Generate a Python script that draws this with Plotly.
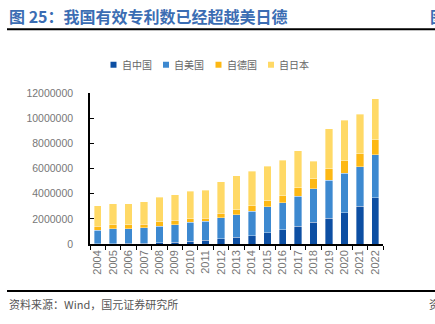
import plotly.graph_objects as go

years = [str(y) for y in range(2004, 2023)]

# Valid patents held, by applicant origin (units: patents)
china = [30000, 40000, 50000, 70000, 100000, 140000, 220000, 300000, 410000, 520000,
         670000, 890000, 1150000, 1410000, 1730000, 2050000, 2480000, 3000000, 3690000]
usa = [1070000, 1190000, 1170000, 1210000, 1310000, 1410000, 1490000, 1490000, 1670000, 1820000,
       1930000, 2060000, 2140000, 2400000, 2650000, 3020000, 3140000, 3150000, 3390000]
germany = [310000, 290000, 300000, 290000, 350000, 320000, 310000, 260000, 360000, 400000,
           460000, 500000, 530000, 680000, 790000, 920000, 1010000, 1030000, 1210000]
japan = [1650000, 1690000, 1690000, 1780000, 1960000, 2060000, 2170000, 2220000, 2500000, 2680000,
         2720000, 2720000, 2830000, 2920000, 1400000, 3180000, 3200000, 3120000, 3260000]

series_names = ["自中国", "自美国", "自德国", "自日本"]
series_values = [china, usa, germany, japan]
series_colors = ["#0D4FA3", "#3D89D0", "#FDB814", "#FFD966"]

y_ticks = [0, 2000000, 4000000, 6000000, 8000000, 10000000, 12000000]

fig = go.Figure()
for name, vals, color in zip(series_names, series_values, series_colors):
    fig.add_trace(go.Bar(
        x=years, y=vals, name=name, showlegend=False,
        marker=dict(color=color, line=dict(color="rgba(255,255,255,0.6)", width=0.6)),
    ))

cjk = "Noto Sans CJK SC"
num_font = "Liberation Sans, Arial"

# plot area edges in pixels: left, right, top, bottom
L, R, T, B = 90, 383, 93.3, 244.5
W, H = R - L, B - T


def px(xp):
    return (xp - L) / W


def py(yp):
    return (B - yp) / H


fig.update_layout(
    width=435, height=324,
    margin=dict(l=L, r=435 - R, t=T, b=324 - B, pad=0),
    paper_bgcolor="white", plot_bgcolor="white",
    barmode="stack", bargap=0.52,
    showlegend=False,
    xaxis=dict(
        type="category", tickangle=-90, showline=True, linecolor="black", linewidth=1.5,
        ticks="outside", ticklen=4, tickcolor="black", tickson="boundaries",
        tickfont=dict(family=num_font, size=11, color="#777777"),
        showgrid=False, zeroline=False,
    ),
    yaxis=dict(
        range=[0, 12000000], tickvals=y_ticks, ticktext=[str(v) for v in y_ticks],
        showline=True, linecolor="black", linewidth=1.5,
        ticks="inside", ticklen=4, tickcolor="black",
        tickfont=dict(family=num_font, size=10.5, color="#777777"),
        showgrid=False, zeroline=False, ticklabelstandoff=13,
    ),
    font=dict(family=cjk),
)

# key row above the bars: small colour square followed by the series name
key_x = [113.5, 166, 218.5, 271]
key_y = 65
for name, color, kx in zip(series_names, series_colors, key_x):
    fig.add_shape(type="rect", xref="paper", yref="paper",
                  x0=px(kx - 3), x1=px(kx + 3), y0=py(key_y + 3), y1=py(key_y - 3),
                  fillcolor=color, line=dict(width=0))
    fig.add_annotation(
        xref="paper", yref="paper", x=px(kx + 6), y=py(key_y), xanchor="left", yanchor="middle",
        text=name, showarrow=False, font=dict(family=cjk, size=10, color="#666666"),
    )

fig.add_annotation(
    xref="paper", yref="paper", x=px(7), y=py(16), xanchor="left", yanchor="middle",
    text="<b>图 25：我国有效专利数已经超越美日德</b>", showarrow=False,
    font=dict(family=cjk, size=16, color="#3B6DB3"),
)
fig.add_annotation(
    xref="paper", yref="paper", x=px(428), y=py(16), xanchor="left", yanchor="middle",
    text="<b>图</b>", showarrow=False,
    font=dict(family=cjk, size=16, color="#3B6DB3"),
)
fig.add_annotation(
    xref="paper", yref="paper", x=px(7), y=py(305), xanchor="left", yanchor="middle",
    text="资料来源：Wind，国元证券研究所", showarrow=False,
    font=dict(family=cjk, size=11, color="#555555"),
)
fig.add_annotation(
    xref="paper", yref="paper", x=px(427), y=py(305), xanchor="left", yanchor="middle",
    text="资", showarrow=False,
    font=dict(family=cjk, size=11, color="#555555"),
)

fig.add_shape(type="line", xref="paper", yref="paper",
              x0=px(7), x1=px(435), y0=py(29.5), y1=py(29.5),
              line=dict(color="black", width=2))
fig.add_shape(type="line", xref="paper", yref="paper",
              x0=px(7), x1=px(435), y0=py(291.5), y1=py(291.5),
              line=dict(color="black", width=2))

fig.write_html("out.html")
